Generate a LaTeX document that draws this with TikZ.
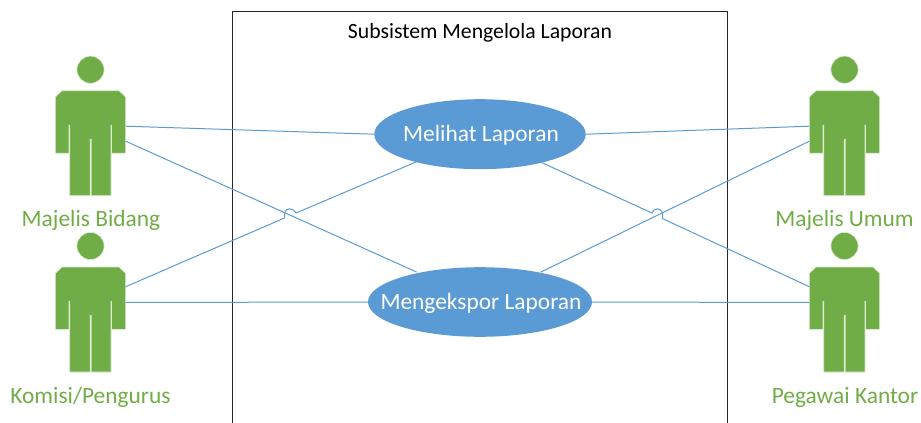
\documentclass[tikz,border=0pt]{standalone}
\usepackage{fontspec}
\setmainfont{Carlito}
\usetikzlibrary{shapes.geometric}
\definecolor{actorgreen}{HTML}{70AD47}
\definecolor{actoredge}{HTML}{DCEBD2}
\definecolor{ucblue}{HTML}{5B9BD5}
\tikzset{
  x=1pt,y=-1pt,
  actorfill/.style={fill=actorgreen,draw=actoredge,line width=0.6pt},
  actorname/.style={text=actorgreen,font=\fontsize{23.4}{26}\selectfont,anchor=base,inner sep=0pt},
  usecase/.style={ellipse,fill=ucblue,draw=none,inner sep=0pt},
  uclabel/.style={text=white,font=\fontsize{23.4}{26}\selectfont,anchor=base,inner sep=0pt},
  link/.style={draw=ucblue,line width=1pt},
  titletext/.style={font=\fontsize{21.7}{24}\selectfont,anchor=base,inner sep=0pt,text=black},
  actor/.pic={
    \fill[actorfill] (0,-21) circle[radius=13.6];
    \path[actorfill] (-28.5,0) -- (28.5,0) -- (35.2,6.3) -- (35.2,62.5) -- (21,62.5) -- (21,34.5)
      -- (20.5,34.5) -- (20.5,105) -- (0.7,105) -- (0.7,48.5) -- (-0.3,48.5) -- (-0.3,105)
      -- (-20.8,105) -- (-20.8,34.5) -- (-21.5,34.5) -- (-21.5,62.5) -- (-35.2,62.5) -- (-35.2,6.3) -- cycle;
    \coordinate (-rc) at (35.2,19.7);
    \coordinate (-ra) at (35.2,35.5);
    \coordinate (-rb) at (35.2,50.5);
    \coordinate (-lc) at (-35.2,19.7);
    \coordinate (-la) at (-35.2,35.5);
    \coordinate (-lb) at (-35.2,50.5);
  }
}
\begin{document}
\begin{tikzpicture}
\useasboundingbox (0,0) rectangle (921,423);
\coordinate (boxbl) at (232,423);
\coordinate (boxtl) at (232,11);
\coordinate (boxtr) at (727.5,11);
\coordinate (boxbr) at (727.5,423);
\draw[black!85,line width=1pt] (boxbl) -- (boxtl) -- (boxtr) -- (boxbr);
\node[titletext] (title) at (480,38.7) {Subsistem Mengelola Laporan};

\node[usecase,minimum width=211.5,minimum height=70] (mel) at (480,134.2) {};
\node[usecase,minimum width=224,minimum height=69.6] (eks) at (480,302) {};
\node[uclabel] (mellabel) at (481,141.7) {Melihat Laporan};
\node[uclabel] (ekslabel) at (481,309) {Mengekspor Laporan};

\pic (mb) at (90.5,90.7) {actor};
\pic (ko) at (90.5,267) {actor};
\pic (mu) at (844.5,90.7) {actor};
\pic (pk) at (844.5,267) {actor};

\node[actorname] (mbname) at (91,226) {Majelis Bidang};
\node[actorname] (koname) at (90.5,403) {Komisi/Pengurus};
\node[actorname] (muname) at (844.5,226) {Majelis Umum};
\node[actorname] (pkname) at (845,403) {Pegawai Kantor};

\coordinate (melsw) at (416.5,161.8);
\coordinate (melse) at (541.5,162.5);
\coordinate (eksnw) at (416.5,272);
\coordinate (eksne) at (541,272);
\coordinate (jla) at (284.5,218);
\coordinate (jlb) at (284.5,212.6);
\coordinate (jlc) at (296,213);
\coordinate (jra) at (652,213);
\coordinate (jrb) at (662.5,213);
\coordinate (jrc) at (662.5,218.6);

\path[link] (mb-ra) -- (mel.west);
\path[link] (mb-rb) -- (eksnw);
\path[link] (ko-rc) -- (jla) -- (jlb) .. controls (286,207.5) and (293,207.5) .. (jlc) -- (melsw);
\path[link] (ko-ra) -- (eks.west);
\path[link] (mel.east) -- (mu-la);
\path[link] (melse) -- (jra) .. controls (654,207.5) and (661,207.5) .. (jrb) -- (jrc) -- (pk-lc);
\path[link] (eksne) -- (mu-lb);
\path[link] (eks.east) -- (pk-la);
\end{tikzpicture}
\end{document}
